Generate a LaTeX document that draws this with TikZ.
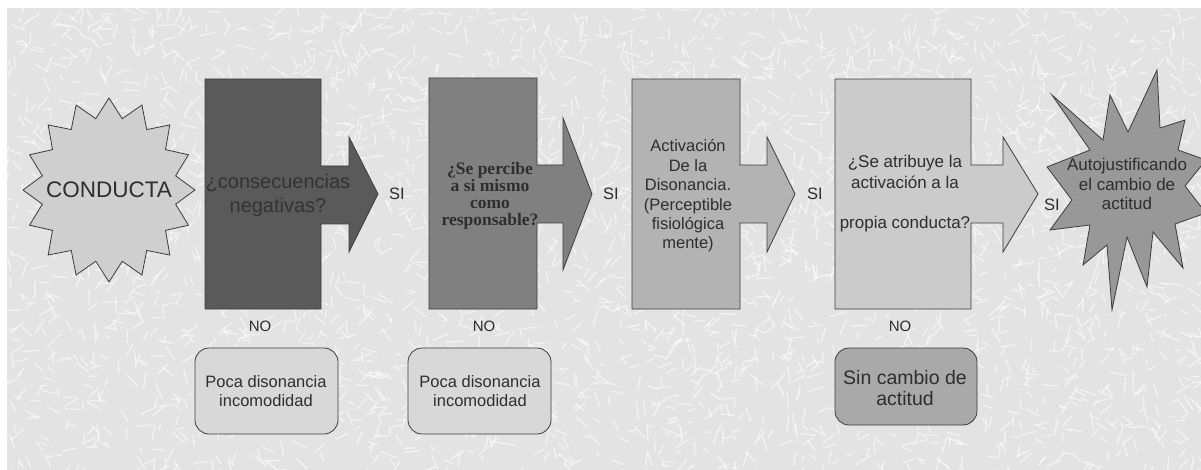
\documentclass[tikz,border=0pt]{standalone}
\usepackage{fontspec}
\setmainfont{Liberation Sans}
\newfontfamily\serifbf{Liberation Serif}
\definecolor{bg}{HTML}{E3E3E3}
\definecolor{edge}{HTML}{3C3C3C}
\definecolor{txt}{HTML}{2E2E2E}
\definecolor{cA}{HTML}{5A5A5A}
\definecolor{cB}{HTML}{808080}
\definecolor{cC}{HTML}{B3B3B3}
\definecolor{cD}{HTML}{CBCBCB}
\definecolor{cS1}{HTML}{CFCFCF}
\definecolor{cS2}{HTML}{989898}
\definecolor{cR}{HTML}{D8D8D8}
\definecolor{cR3}{HTML}{A9A9A9}
\begin{document}
\begin{tikzpicture}[x=1pt,y=-1pt,
  shp/.style={draw=edge, line width=0.8pt},
  lbl/.style={text=txt, align=center, inner sep=0pt},
  f16/.style={font=\fontsize{16.5}{19.4}\selectfont},
  rbox/.style={shp, rounded corners=14pt}]
\useasboundingbox (0,0) rectangle (1201,470);
\fill[white] (0,0) rectangle (1201,470);
\fill[bg] (7,8) rectangle (1201,470);
\begin{scope}
\clip (7,8) rectangle (1201,470);
\pgfmathsetseed{5}
\foreach \i in {1,...,3200}{
  \pgfmathsetmacro\xx{7+rnd*1200}
  \pgfmathsetmacro\yy{4+rnd*470}
  \pgfmathsetmacro\aa{rnd*180}
  \pgfmathsetmacro\ll{5+rnd*12}
  \draw[white, opacity=0.55, line width=1.4pt, line cap=round] (\xx,\yy) -- ++(\aa:\ll);
}
\end{scope}

% star CONDUCTA
\draw[shp, fill=cS1] plot[variable=\k, samples at={0,...,31}]
  ({109+86*ifthenelse(mod(\k,2)==0,1,0.79)*cos(90+\k*11.25)},
   {190-92*ifthenelse(mod(\k,2)==0,1,0.79)*sin(90+\k*11.25)}) -- cycle;
\node[lbl, font=\fontsize{22.5}{26}\selectfont] (conducta) at (109,190) {CONDUCTA};

% box 1
\draw[shp, fill=cA] (205,79) -- (321,79) -- (321,166) -- (349,166) -- (349,137) -- (378,194)
  -- (349,252) -- (349,224) -- (321,224) -- (321,309) -- (205,309) -- cycle;
\node[lbl, text=black!80, font=\fontsize{20}{24}\selectfont] (q1) at (278,195) {¿consecuencias\\negativas?};
\node[lbl, f16] (si1) at (397,194) {SI};

% box 2
\draw[shp, fill=cB] (429,78) -- (537,78) -- (537,165) -- (563,165) -- (563,118) -- (592,194)
  -- (563,270) -- (563,223) -- (537,223) -- (537,309) -- (429,309) -- cycle;
\node[lbl, font=\serifbf\bfseries\fontsize{17.5}{17}\selectfont] (q2) at (490,196) {¿Se percibe\\a si mismo\\como\\responsable?};
\node[lbl, f16] (si2) at (611,194) {SI};

% box 3
\draw[shp, fill=cC] (632,79) -- (740,79) -- (740,165) -- (767,165) -- (767,137) -- (795,194)
  -- (767,252) -- (767,223) -- (740,223) -- (740,309) -- (632,309) -- cycle;
\node[lbl, f16] (q3) at (688,196) {Activación\\De la\\Disonancia.\\(Perceptible\\fisiológica\\mente)};
\node[lbl, f16] (si3) at (815,194) {SI};

% box 4
\draw[shp, fill=cD] (835,79) -- (971,79) -- (971,165) -- (1003,165) -- (1003,137) -- (1038,194)
  -- (1003,252) -- (1003,223) -- (971,223) -- (971,309) -- (835,309) -- cycle;
\node[lbl, font=\fontsize{17}{20.3}\selectfont] (q4) at (905,194) {¿Se atribuye la\\activación a la\\[20.3pt]propia conducta?};
\node[lbl, f16] (si4) at (1052,205) {SI};

% star result
\draw[shp, fill=cS2] (1157,70) -- (1160,128) -- (1185,120) -- (1178,150) -- (1206,160)
  -- (1185,186) -- (1206,213) -- (1175,224) -- (1183,268) -- (1153,232) -- (1147,287)
  -- (1127,237) -- (1112,310) -- (1107,245) -- (1083,265) -- (1090,225) -- (1050,230)
  -- (1072,200) -- (1047,167) -- (1090,150) -- (1052,95) -- (1103,140) -- (1110,95)
  -- (1128,132) -- cycle;
\node[lbl, font=\fontsize{17}{19.5}\selectfont] (result) at (1127,184) {Autojustificando\\el cambio de\\actitud};

% NO labels
\node[lbl, font=\fontsize{15}{18}\selectfont] (no1) at (260,326) {NO};
\node[lbl, font=\fontsize{15}{18}\selectfont] (no2) at (484,326) {NO};
\node[lbl, font=\fontsize{15}{18}\selectfont] (no3) at (900,326) {NO};

% result boxes
\draw[rbox, fill=cR] (195,348) rectangle (338,434);
\node[lbl, font=\fontsize{16.5}{19}\selectfont] (r1) at (266,391) {Poca disonancia\\incomodidad};
\draw[rbox, fill=cR] (408,348) rectangle (551,434);
\node[lbl, font=\fontsize{16.5}{19}\selectfont] (r2) at (480,391) {Poca disonancia\\incomodidad};
\draw[rbox, fill=cR3] (835,348) rectangle (977,425);
\node[lbl, font=\fontsize{19.5}{21.5}\selectfont] (r3) at (905,388) {Sin cambio de\\actitud};
\end{tikzpicture}
\end{document}
